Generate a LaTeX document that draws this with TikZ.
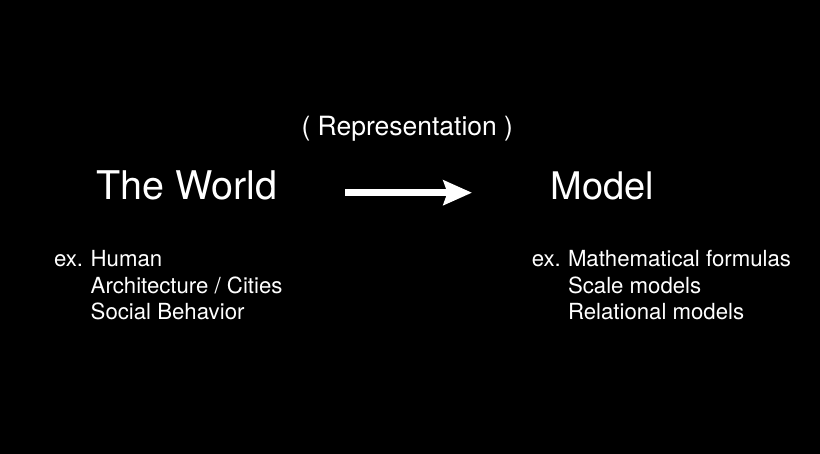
\documentclass[tikz,border=0pt]{standalone}
\usepackage{fontspec}
\setmainfont{TeX Gyre Heros}
\usetikzlibrary{arrows.meta}
\begin{document}
\begin{tikzpicture}[x=1pt,y=-1pt,
  lbl/.style={anchor=base west,inner sep=0pt,outer sep=0pt,text=white},
  title/.style={lbl,font=\fontsize{38}{44}\selectfont},
  caption/.style={lbl,font=\fontsize{26.5}{30}\selectfont},
  item/.style={lbl,font=\fontsize{22.2}{26}\selectfont},
  bigarrow/.style={draw=white,line width=6.7pt,
    -{Stealth[length=28.5pt,width=24.5pt,inset=4pt,fill=white]}}]
  % canvas
  \fill[black] (0,0) rectangle (820,454);
  \useasboundingbox (0,0) rectangle (820,454);

  % caption above the arrow
  \node[caption] (rep) at (301.5,136) {( Representation )};

  % the two sides
  \node[title,font=\fontsize{39.5}{44}\selectfont] (world) at (96.5,200) {The World};
  \node[title] (model) at (550.5,200) {Model};

  % arrow between them
  \coordinate (arrowstart) at (345.3,192.7);
  \coordinate (arrowend) at (472,192.7);
  \draw[bigarrow] (arrowstart) -- (arrowend);

  % examples of the world
  \node[item] (wex) at (54,267) {ex.};
  \node[item] (w1) at (90.7,267) {Human};
  \node[item] (w2) at (90.7,293.5) {Architecture / Cities};
  \node[item] (w3) at (90.7,320) {Social Behavior};

  % examples of models
  \node[item] (mex) at (531.8,267) {ex.};
  \node[item] (m1) at (568,267) {Mathematical formulas};
  \node[item] (m2) at (568,293.5) {Scale models};
  \node[item] (m3) at (568,320) {Relational models};
\end{tikzpicture}
\end{document}
